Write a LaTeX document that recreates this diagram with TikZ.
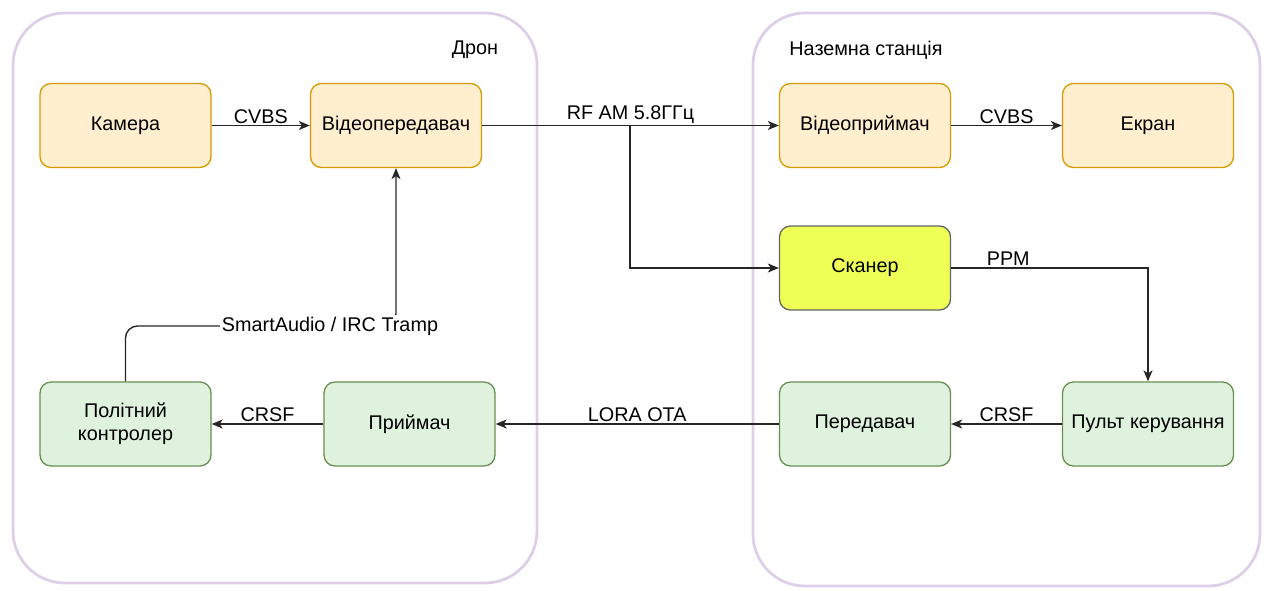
\documentclass[tikz,border=0pt]{standalone}
\usepackage{fontspec}
\setmainfont{Liberation Sans}
\usetikzlibrary{arrows.meta}
\definecolor{boxorange}{HTML}{FFEFCF}
\definecolor{lineorange}{HTML}{D79B00}
\definecolor{boxgreen}{HTML}{DFF2DE}
\definecolor{linegreen}{HTML}{82B366}
\definecolor{boxyellow}{HTML}{EEFF55}
\definecolor{linegray}{HTML}{666666}
\definecolor{framepurple}{HTML}{DDCFE8}
\tikzset{
  block/.style={draw, line width=1.3pt, rounded corners=11pt, minimum width=171pt,
    minimum height=84pt, align=center, font=\fontsize{19.8}{23}\selectfont},
  orangebox/.style={block, fill=boxorange, draw=lineorange},
  greenbox/.style={block, fill=boxgreen, draw=linegreen!80!black},
  scanbox/.style={block, fill=boxyellow, draw=linegray},
  framebox/.style={draw=framepurple, line width=2.8pt, rounded corners=52pt},
  link/.style={draw=black!85, line width=1.4pt, -{Stealth[length=11pt,width=9pt,inset=3pt]}},
  lbl/.style={font=\fontsize{19.8}{23}\selectfont, inner sep=1.5pt},
  title/.style={font=\fontsize{19.8}{23}\selectfont}
}
\begin{document}
\begin{tikzpicture}[x=1pt, y=-1pt]
  \useasboundingbox (0,0) rectangle (1269,590);
  \draw[framebox] (13,13) rectangle (537,583);
  \draw[framebox] (753,13) rectangle (1260,586);
  \node[title] (drone) at (475,50) {Дрон};
  \node[title] (ground) at (866,50) {Наземна станція};

  \node[orangebox] (cam) at (125.5,125.5) {Камера};
  \node[orangebox] (vtx) at (396,125.5) {Відеопередавач};
  \node[orangebox] (vrx) at (865,125.5) {Відеоприймач};
  \node[orangebox] (scr) at (1148,125.5) {Екран};
  \node[scanbox] (scan) at (865,268) {Сканер};
  \node[greenbox] (fc) at (125.5,424) {Політний\\контролер};
  \node[greenbox] (rx) at (409.5,424) {Приймач};
  \node[greenbox] (tx) at (865,424) {Передавач};
  \node[greenbox] (rc) at (1148,424) {Пульт керування};

  \coordinate (split) at (630,125.5);
  \coordinate (bend) at (396,326);

  \draw[link] (cam) -- node[lbl, above] {CVBS} (vtx);
  \draw[link] (vtx) -- node[lbl, above] {RF AM 5.8ГГц} (vrx);
  \draw[link] (split) |- (scan);
  \draw[link] (vrx) -- node[lbl, above] {CVBS} (scr);
  \draw[link] (scan) -| node[lbl, above, pos=0.145] {PPM} (rc);
  \draw[link] (rc) -- node[lbl, above] {CRSF} (tx);
  \draw[link] (tx) -- node[lbl, above] {LORA OTA} (rx);
  \draw[link] (rx) -- node[lbl, above] {CRSF} (fc);
  \draw[link, rounded corners=12pt] (fc.north) |- (bend) -- (vtx.south);
  \node[lbl, fill=white] (sa) at (330,326) {SmartAudio / IRC Tramp};
\end{tikzpicture}
\end{document}
